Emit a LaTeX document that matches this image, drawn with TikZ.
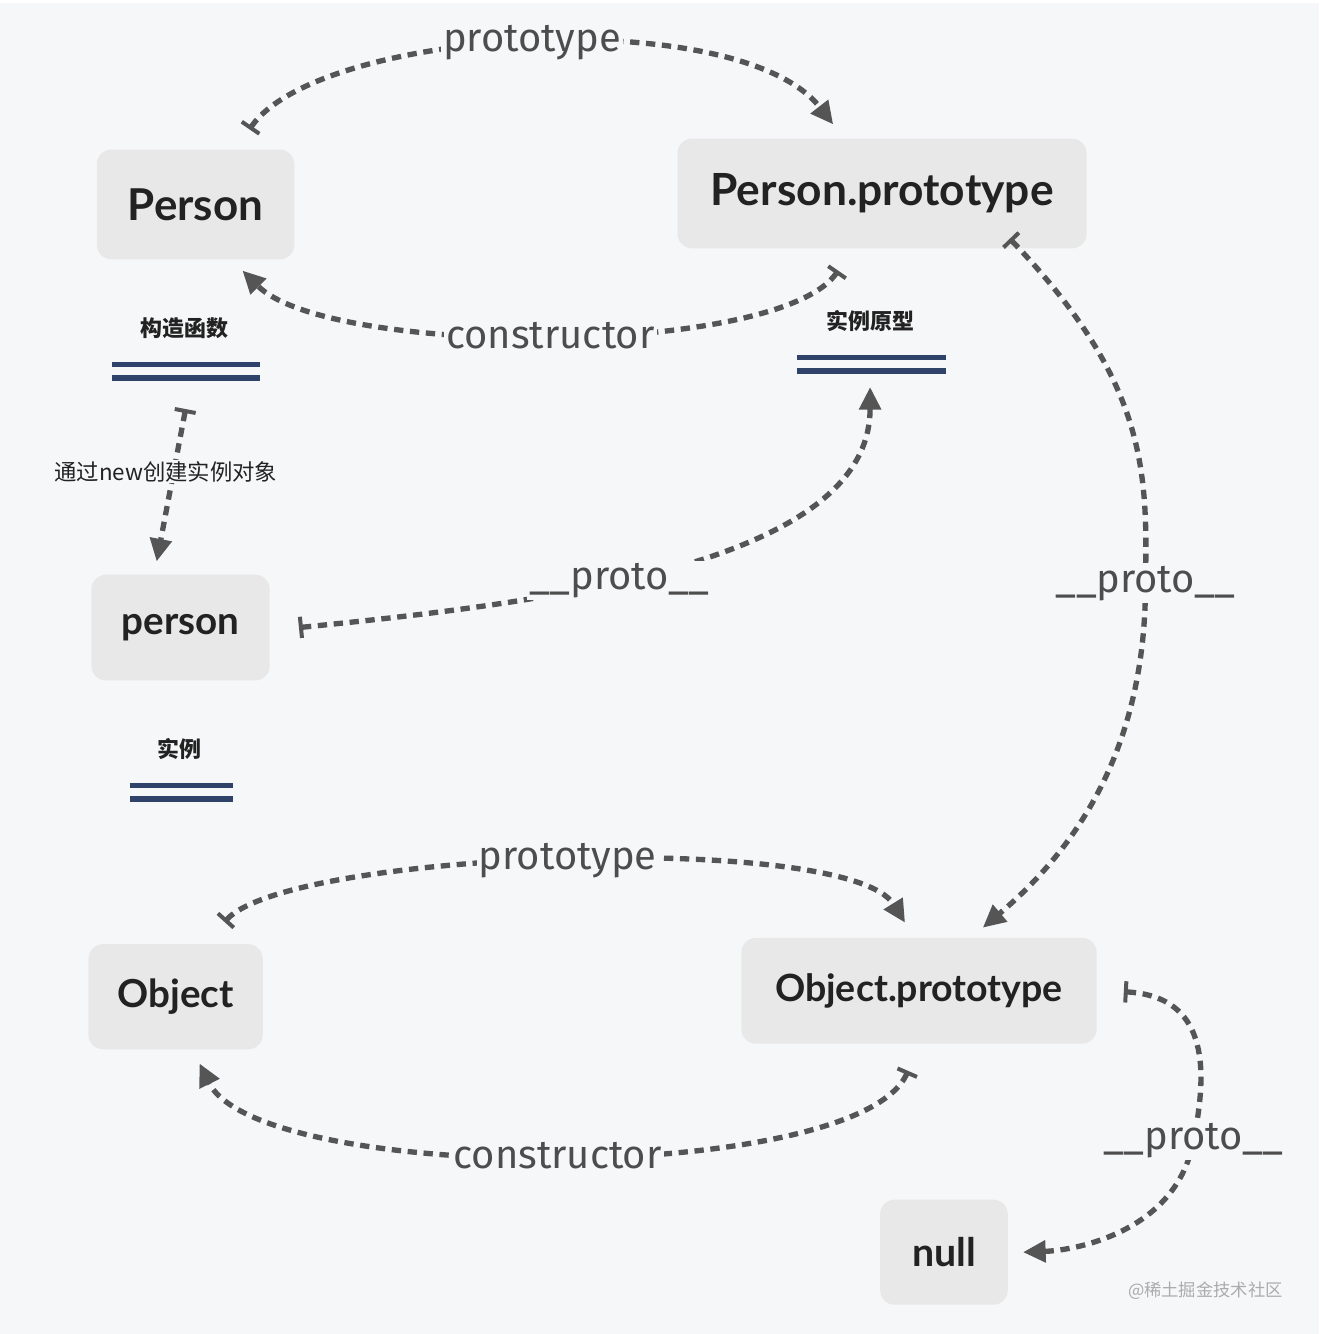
\documentclass[tikz,border=0pt]{standalone}
\usepackage{fontspec}
\usetikzlibrary{arrows.meta,calc}
\newfontfamily\boxfont{Lato}
\newfontfamily\tagfont{Fira Sans}
\newfontfamily\cjk{Noto Sans CJK SC}
\definecolor{paper}{RGB}{246,247,249}
\definecolor{boxfill}{RGB}{232,232,232}
\definecolor{ink}{RGB}{34,34,34}
\definecolor{linkgray}{RGB}{85,85,85}
\definecolor{tagcolor}{RGB}{77,77,77}
\definecolor{navy}{RGB}{47,66,105}
\tikzset{
	obj/.style={
		fill=boxfill, rounded corners=11pt, text=ink, inner sep=0pt,
		font=\boxfont\bfseries\fontsize{#1}{#1}\selectfont},
	link/.style={
		draw=linkgray, line width=4pt, dash pattern=on 7pt off 5pt,
		{Bar[width=16pt,line width=3pt]}-{Triangle[length=17pt,width=16pt]}},
	tag/.style={
		fill=paper, text=tagcolor, inner sep=1.5pt,
		font=\tagfont\fontsize{30}{30}\selectfont},
	caption/.style={text=ink, font=\cjk\bfseries\fontsize{#1}{#1}\selectfont},
	twin/.style={draw=navy, line width=4.1pt},
	stamp/.style={text=black!33, font=\cjk\fontsize{13}{13}\selectfont}
}
\begin{document}
\begin{tikzpicture}[x=0.75pt,y=0.75pt,yscale=-1,xscale=1]
\path[fill=paper] (0,0) rectangle (1322,1334);

% boxes
\node[obj=33, minimum width=148.5pt, minimum height=82.5pt] (Person) at (196,202) {Person};
\node[obj=33.3, minimum width=307.5pt, minimum height=82.5pt] (PersonProto) at (884,191) {Person.prototype};
\node[obj=29, minimum width=134pt, minimum height=79.5pt] (person) at (181,626) {person};
\node[obj=29, minimum width=131pt, minimum height=79pt] (Object) at (176,996) {Object};
\node[obj=28.2, minimum width=267pt, minimum height=79.5pt] (ObjectProto) at (921,990) {Object.prototype};
\node[obj=29.5, minimum width=96pt, minimum height=79pt] (null) at (946,1252) {null};

% captions with double rules
\node[caption=16.5] (capCtor) at (185,326) {构造函数};
\node[caption=16.5] (capProto) at (872,319) {实例原型};
\node[caption=16.5] (capInst) at (180,748) {实例};
\foreach \y in {36.5,50} {
	\draw[twin] ($(capCtor)+(-73,\y)$) -- ++(149,0);
	\draw[twin] ($(capProto)+(-73,\y)$) -- ++(149,0);
	\draw[twin] ($(capInst)+(-50,\y)$) -- ++(104,0);
}
\node[stamp] (stamp) at (1208,1291) {@稀土掘金技术社区};

% Person <-> Person.prototype
\draw[link] ($(Person.north)+(54,-20)$) .. controls +(70,-102) and +(-95,-122) .. ($(PersonProto.north)+(-49,-14)$)
	node[tag, pos=0.5] (protoTop) {prototype};
\draw[link] ($(PersonProto.south)+(-44,22)$) .. controls +(-60,87) and +(87,87) .. ($(Person.south)+(47,11)$)
	node[tag, pos=0.5] (ctorTop) {constructor};

% new
\coordinate (newFrom) at ($(capCtor)+(1,81)$);
\draw[link] (newFrom) -- ($(person.north)+(-24,-13)$)
	node[text=ink, font=\cjk\fontsize{16.8}{16.8}\selectfont, fill=paper, inner sep=1pt, pos=0.41, xshift=-6pt] (newTag) {通过new创建实例对象};

% __proto__ chain
\draw[link] ($(person.east)+(29,0)$) .. controls +(260,-26) and +(0,175) .. ($(capProto)+(0,66)$)
	node[tag, pos=0.41] (protoMid) {\_\_proto\_\_};
\draw[link] ($(PersonProto.south)+(128,-10)$) .. controls +(138,144) and +(2,-112) .. (1148,582)
	node[tag] (protoRight) {\_\_proto\_\_}
	.. controls +(0,138) and +(115,-97) .. ($(ObjectProto.north)+(64,-10)$);
\draw[link] ($(ObjectProto.east)+(27,1)$) .. controls +(74,4) and +(19,-90) .. (1196,1140)
	node[tag] (protoLow) {\_\_proto\_\_}
	.. controls +(-16,90) and +(55,-2) .. ($(null.east)+(15,0)$);

% Object <-> Object.prototype
\draw[link] ($(Object.north)+(49,-22)$) .. controls +(65,-72) and +(-57,-92) .. ($(ObjectProto.north)+(-14,-15)$)
	node[tag, pos=0.5] (protoBot) {prototype};
\draw[link] ($(ObjectProto.south)+(-11,27)$) .. controls +(-50,115) and +(60,122) .. ($(Object.south)+(24,14)$)
	node[tag, pos=0.5] (ctorBot) {constructor};

\end{tikzpicture}
\end{document}
